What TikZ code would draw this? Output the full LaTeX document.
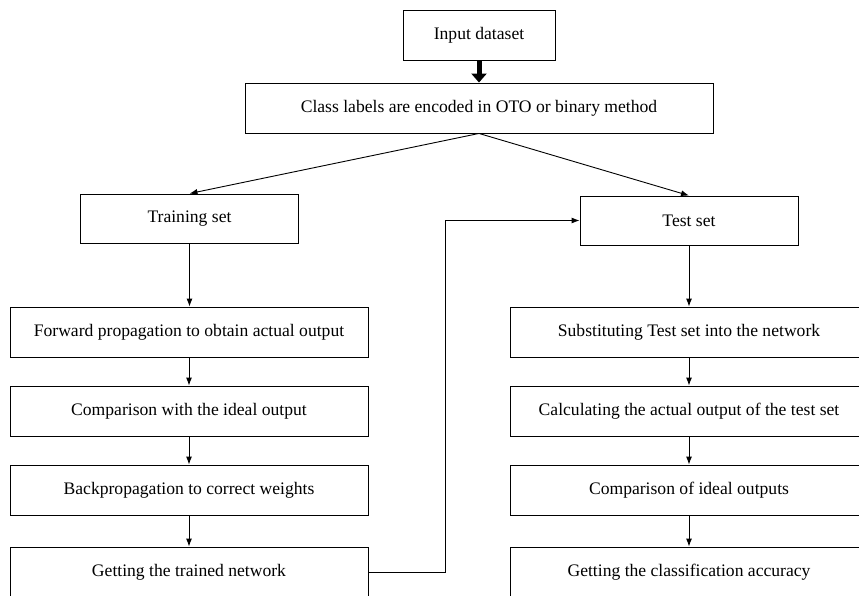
\documentclass[tikz,border=0pt]{standalone}
\usepackage{fontspec}
\setmainfont{Liberation Serif}
\usepackage{tikz}
\usetikzlibrary{arrows.meta}

\begin{document}
\begin{tikzpicture}[x=1pt, y=-1pt,
    box/.style={draw, line width=0.9pt, inner sep=0pt, minimum width=358pt, minimum height=50pt,
      font=\fontsize{17.6}{20}\selectfont},
    smallbox/.style={box, minimum width=218pt, minimum height=49pt},
    flow/.style={-{Latex[length=8pt, width=6pt]}, line width=0.9pt},
    fat/.style={-{Triangle[length=9pt, width=15pt]}, line width=5pt}]
    \useasboundingbox (0, 0) rectangle (859, 595);
    \clip (0, 0) rectangle (859, 595);

    \node[box, minimum width=152pt] (input) at (479, 35.5) {Input dataset};
    \node[box, minimum width=468pt] (encode) at (479, 108) {Class labels are encoded in OTO or binary method};

    \node[smallbox] (train) at (189.5, 218.5) {Training set};
    \node[smallbox] (test) at (689, 220.5) {Test set};

    % left column
    \node[box] (fwd) at (189, 332) {Forward propagation to obtain actual output};
    \node[box] (cmp) at (189, 411) {Comparison with the ideal output};
    \node[box] (bp) at (189, 490) {Backpropagation to correct weights};
    \node[box] (trained) at (189, 572) {Getting the trained network};

    % right column
    \node[box] (subst) at (689, 332) {Substituting Test set into the network};
    \node[box] (calc) at (689, 411) {Calculating the actual output of the test set};
    \node[box] (ideal) at (689, 490) {Comparison of ideal outputs};
    \node[box] (acc) at (689, 572) {Getting the classification accuracy};

    \draw[fat] (input.south) -- (encode.north);
    \draw[flow] (encode.south) -- (train.north);
    \draw[flow] (encode.south) -- (test.north);

    \draw[flow] (train.south) -- (fwd.north -| train.south);
    \draw[flow] (fwd) -- (cmp);
    \draw[flow] (cmp) -- (bp);
    \draw[flow] (bp) -- (trained);

    \draw[flow] (test.south) -- (subst.north);
    \draw[flow] (subst) -- (calc);
    \draw[flow] (calc) -- (ideal);
    \draw[flow] (ideal) -- (acc);

    \draw[flow] (trained.east) -- ++(77, 0) |- (test.west);
\end{tikzpicture}
\end{document}
